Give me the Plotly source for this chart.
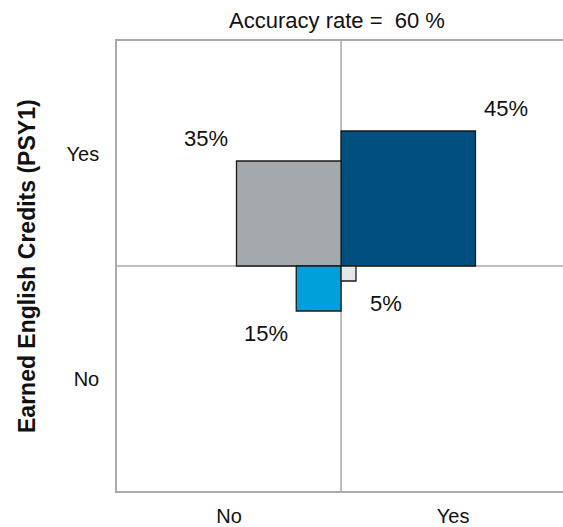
import plotly.graph_objects as go

# Data
labels = ["45%", "35%", "15%", "5%"]
values = [45, 35, 15, 5]
# quadrant signs: (predicted x direction, actual y direction)
x_sign = [1, -1, -1, 1]
y_sign = [1, 1, -1, -1]
colors = ["#00507F", "#A3A9AC", "#00A0DB", "#E4E7E9"]
x_ticks = ["No", "Yes"]
y_ticks = ["No", "Yes"]
title_text = "Accuracy rate = &nbsp;60 %"
y_title = "Earned English Credits (PSY1)"

W, H = 563, 527
L, T, B, R = 117, 41, 34, 0

fig = go.Figure()
for v, sx, sy, c in zip(values, x_sign, y_sign, colors):
    xs = [0, sx * v, sx * v, 0, 0]
    ys = [0, 0, sy * v, sy * v, 0]
    fig.add_trace(go.Scatter(x=xs, y=ys, mode="lines", fill="toself", fillcolor=c,
                             line=dict(color="#1a1a1a", width=1.3), hoverinfo="skip",
                             showlegend=False))

for lab, v, sx, sy in zip(labels, values, x_sign, y_sign):
    fig.add_annotation(x=sx * (v + 10.2), y=sy * (v + 7.5), text=lab, showarrow=False,
                       font=dict(size=22, color="#111"), xanchor="center", yanchor="middle")

fig.add_annotation(xref="paper", yref="paper", x=(27 - L) / (W - L - R), y=0.5,
                   text="<b>" + y_title + "</b>",
                   textangle=-90, showarrow=False, font=dict(size=23, color="#111"),
                   xanchor="center", yanchor="middle")

fig.add_shape(type="line", x0=0, x1=0, y0=-75, y1=75, line=dict(color="#A8A8A8", width=1.5), layer="below")
fig.add_shape(type="line", x0=-75, x1=75, y0=0, y1=0, line=dict(color="#A8A8A8", width=1.5), layer="below")

fig.update_layout(
    width=W, height=H,
    margin=dict(l=L, r=R, t=T, b=B),
    plot_bgcolor="white", paper_bgcolor="white",
    font=dict(family="Liberation Sans, Arial", color="#111"),
    title=dict(text=title_text, x=337 / W, xanchor="center", y=1 - 20 / H, yanchor="middle",
               font=dict(size=22, color="#111")),
    xaxis=dict(range=[-75, 74.3], tickvals=[-37.5, 37.5], ticktext=x_ticks,
               showgrid=False, zeroline=False, showline=True, mirror=True,
               linecolor="#AAAAAA", linewidth=1.5, ticks="", tickfont=dict(size=20),
               ticklabelstandoff=6, fixedrange=True),
    yaxis=dict(range=[-75, 75], tickvals=[-37.5, 37.5], ticktext=y_ticks,
               showgrid=False, zeroline=False, showline=True,
               linecolor="#AAAAAA", linewidth=1.5, ticks="", tickfont=dict(size=20),
               ticklabelstandoff=12, fixedrange=True),
)

fig.write_html("out.html", config={"displayModeBar": False},
               post_script="document.body.style.margin='0';document.body.style.overflow='hidden';")
